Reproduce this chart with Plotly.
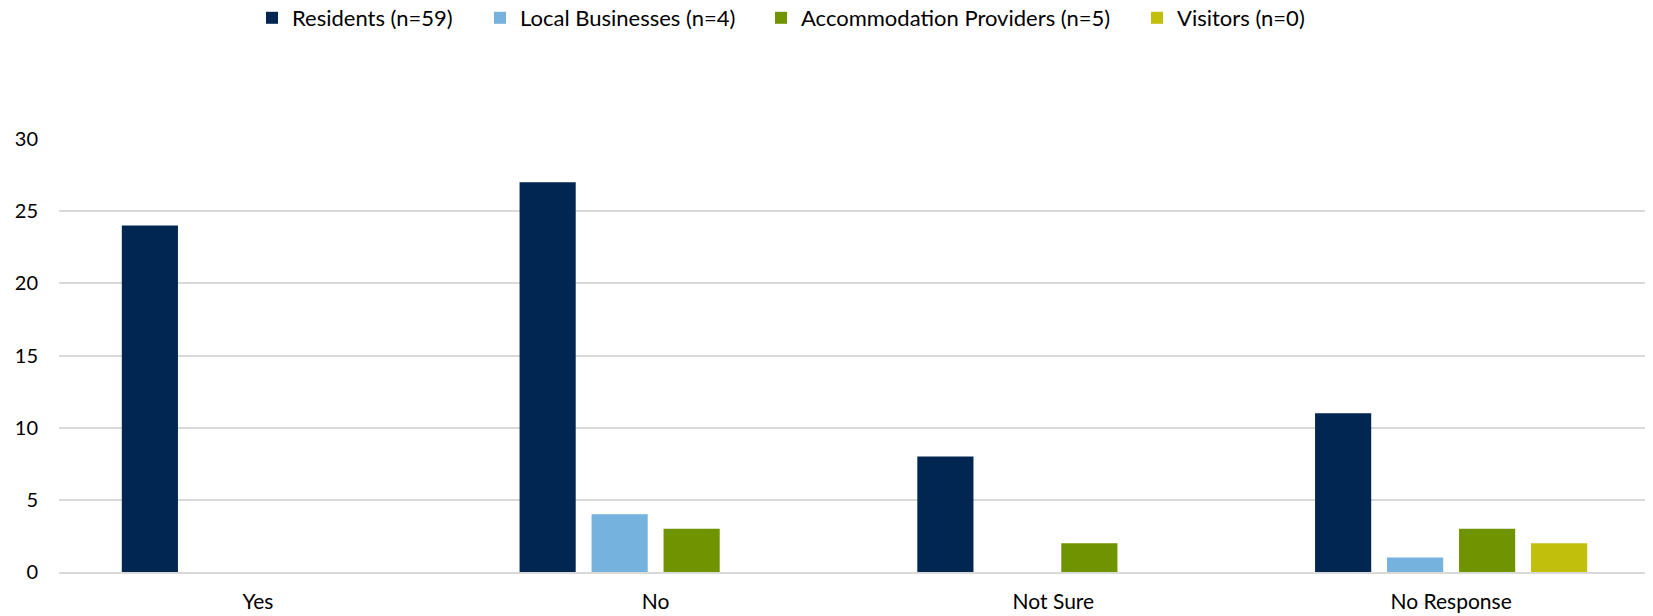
import plotly.graph_objects as go

categories = ["Yes", "No", "Not Sure", "No Response"]
series_names = ["Residents (n=59)", "Local Businesses (n=4)", "Accommodation Providers (n=5)", "Visitors (n=0)"]
residents = [24, 27, 8, 11]
local_businesses = [0, 4, 0, 1]
accommodation = [0, 3, 2, 3]
visitors = [0, 0, 0, 2]
colors = ["#012651", "#75B2DE", "#709400", "#C2BE0C"]
y_ticks = [0, 5, 10, 15, 20, 25, 30]

FONT = "Lato, Calibri, Carlito, sans-serif"
# page body has an 8px margin, so the figure is sized to fit the 1653x616 window
W, H = 1645, 608
legend_ids = ["legend", "legend2", "legend3", "legend4"]
legend_left_px = [244, 472, 753, 1129]

fig = go.Figure()
for name, vals, c, lid in zip(series_names, [residents, local_businesses, accommodation, visitors], colors, legend_ids):
    fig.add_trace(go.Bar(x=categories, y=vals, name=name, legend=lid,
                         marker=dict(color=c, line=dict(width=0))))

legend_layout = {}
for lid, px in zip(legend_ids, legend_left_px):
    legend_layout[lid] = dict(orientation="h", x=px / W, xref="container", xanchor="left",
                              y=1 - 10 / H, yref="container", yanchor="middle",
                              font=dict(family=FONT, size=22, color="#000000"),
                              itemwidth=30, bgcolor="rgba(0,0,0,0)")

fig.update_layout(
    width=W, height=H,
    barmode="group", bargap=0.276, bargroupgap=0.22,
    plot_bgcolor="white", paper_bgcolor="white",
    margin=dict(l=51, r=3, t=131, b=44, autoexpand=False),
    font=dict(family=FONT, size=21, color="#000000"),
    showlegend=True,
    **legend_layout,
)
fig.update_yaxes(range=[0, 30], tickvals=y_ticks, showgrid=True, gridcolor="#d9d9d9", gridwidth=1.5,
                 zeroline=False, showline=False, ticks="", ticklabelstandoff=20,
                 tickfont=dict(family=FONT, size=20, color="#000000"))
fig.update_xaxes(showline=True, linecolor="#d9d9d9", linewidth=1.5, ticks="", ticklabelstandoff=10,
                 tickfont=dict(family=FONT, size=21, color="#000000"))

fig.write_html("out.html")
